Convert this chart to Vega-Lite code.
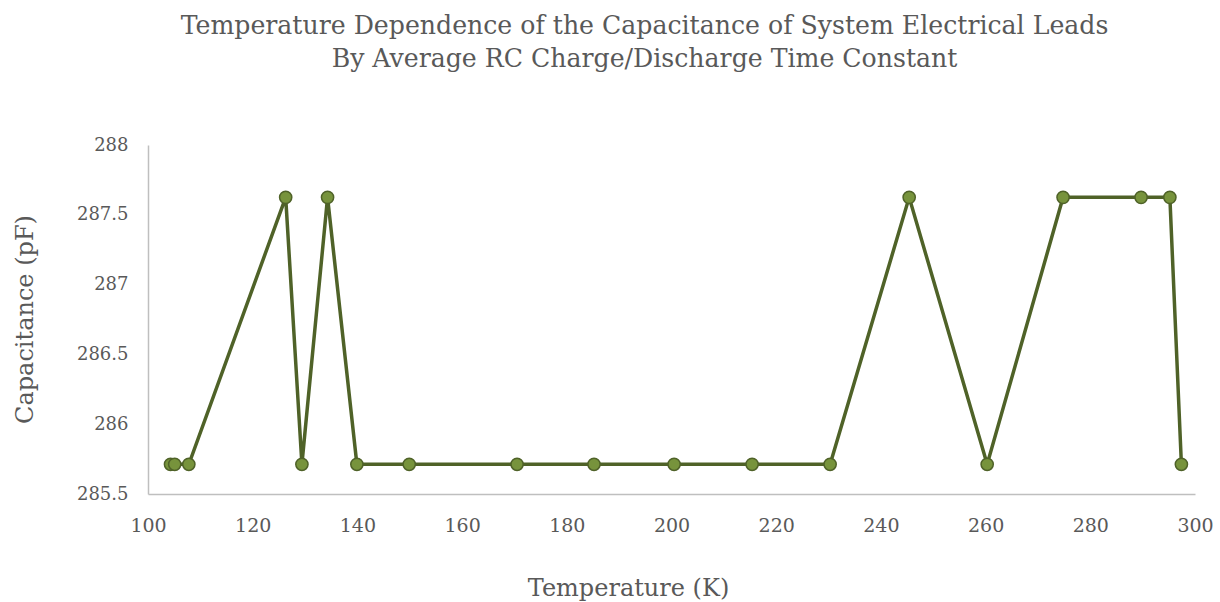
{
  "$schema": "https://vega.github.io/schema/vega-lite/v6.json",
  "width": 1047,
  "height": 349,
  "autosize": "none",
  "padding": {"left": 148, "top": 145, "right": 25, "bottom": 108},
  "background": "white",
  "config": {"view": {"stroke": null}, "font": "DejaVu Serif"},
  "title": {
    "text": ["Temperature Dependence of the Capacitance of System Electrical Leads", "By Average RC Charge/Discharge Time Constant"],
    "fontSize": 25.2,
    "fontWeight": "normal",
    "font": "DejaVu Serif",
    "color": "#595959",
    "anchor": "middle",
    "dx": -27,
    "offset": 64,
    "lineHeight": 33
  },
  "data": {
    "values": [
      {"T": 104.3, "C": 285.713},
      {"T": 105.1, "C": 285.713},
      {"T": 107.8, "C": 285.713},
      {"T": 126.3, "C": 287.625},
      {"T": 129.4, "C": 285.713},
      {"T": 134.3, "C": 287.625},
      {"T": 139.9, "C": 285.713},
      {"T": 149.9, "C": 285.713},
      {"T": 170.5, "C": 285.713},
      {"T": 185.2, "C": 285.713},
      {"T": 200.5, "C": 285.713},
      {"T": 215.4, "C": 285.713},
      {"T": 230.3, "C": 285.713},
      {"T": 245.4, "C": 287.625},
      {"T": 260.3, "C": 285.713},
      {"T": 274.8, "C": 287.625},
      {"T": 289.7, "C": 287.625},
      {"T": 295.2, "C": 287.625},
      {"T": 297.4, "C": 285.713}
    ]
  },
  "encoding": {
    "x": {
      "field": "T", "type": "quantitative",
      "scale": {"domain": [100, 300], "nice": false, "zero": false},
      "axis": {
        "title": "Temperature (K)",
        "values": [100, 120, 140, 160, 180, 200, 220, 240, 260, 280, 300],
        "grid": false, "ticks": false,
        "domainColor": "#bfbfbf", "domainWidth": 1.5,
        "labelFont": "DejaVu Serif", "labelFontSize": 19, "labelColor": "#595959",
        "labelPadding": 22, "labelFlush": false,
        "titleFont": "DejaVu Serif", "titleFontSize": 24, "titleFontWeight": "normal", "titleColor": "#595959",
        "titleX": 480, "titleY": 94, "titleBaseline": "middle", "titleAnchor": null
      }
    },
    "y": {
      "field": "C", "type": "quantitative",
      "scale": {"domain": [285.5, 288], "nice": false, "zero": false},
      "axis": {
        "title": "Capacitance (pF)",
        "values": [285.5, 286, 286.5, 287, 287.5, 288],
        "format": ".1~f",
        "grid": false, "ticks": false,
        "domainColor": "#bfbfbf", "domainWidth": 1.5,
        "labelFont": "DejaVu Serif", "labelFontSize": 18, "labelColor": "#595959",
        "labelPadding": 20, "labelFlush": false,
        "titleFont": "DejaVu Serif", "titleFontSize": 24, "titleFontWeight": "normal", "titleColor": "#595959",
        "titleX": -123, "titleY": 174, "titleBaseline": "middle", "titleAngle": -90, "titleAnchor": null
      }
    }
  },
  "layer": [
    {"mark": {"type": "line", "color": "#4f6228", "strokeWidth": 3.5}},
    {"mark": {"type": "point", "shape": "circle", "filled": true, "fill": "#77933c", "stroke": "#4f6228", "strokeWidth": 1.5, "size": 150, "opacity": 1}}
  ]
}
